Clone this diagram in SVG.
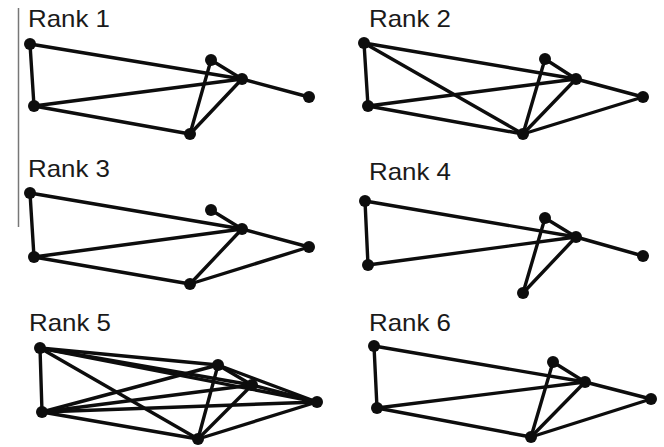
<svg xmlns="http://www.w3.org/2000/svg" width="664" height="447" viewBox="0 0 664 447">
  <style>
    .label { font-family: "Liberation Sans", Arial, sans-serif; font-size: 24px; fill: #1a1a1a; }
    .edge { stroke: #0d0d0d; stroke-width: 3.4; stroke-linecap: round; fill: none; }
    .node { fill: #0d0d0d; }
    .rule { stroke: #777; stroke-width: 1.5; }
  </style>
  <rect width="664" height="447" fill="#fff"/>

  <!-- thin margin rule on the left -->
  <line class="rule" x1="18.5" y1="8" x2="18.5" y2="227"/>

  <!-- Rank 1 -->
  <g id="rank1">
    <text class="label" x="28" y="27" textLength="82" lengthAdjust="spacingAndGlyphs">Rank 1</text>
    <g id="rank1-connectors">
      <line class="edge" x1="30" y1="44" x2="34" y2="106"/>
      <line class="edge" x1="30" y1="44" x2="242" y2="79"/>
      <line class="edge" x1="34" y1="106" x2="242" y2="79"/>
      <line class="edge" x1="34" y1="106" x2="190" y2="134"/>
      <line class="edge" x1="190" y1="134" x2="211" y2="60"/>
      <line class="edge" x1="190" y1="134" x2="242" y2="79"/>
      <line class="edge" x1="211" y1="60" x2="242" y2="79"/>
      <line class="edge" x1="242" y1="79" x2="309" y2="97"/>
    </g>
    <g id="rank1-n1"><circle class="node" cx="30" cy="44" r="6"/></g>
    <g id="rank1-n2"><circle class="node" cx="34" cy="106" r="6"/></g>
    <g id="rank1-n3"><circle class="node" cx="190" cy="134" r="6"/></g>
    <g id="rank1-n4"><circle class="node" cx="211" cy="60" r="6"/></g>
    <g id="rank1-n5"><circle class="node" cx="242" cy="79" r="6"/></g>
    <g id="rank1-n6"><circle class="node" cx="309" cy="97" r="6"/></g>
  </g>

  <!-- Rank 2 -->
  <g id="rank2">
    <text class="label" x="369" y="27" textLength="82" lengthAdjust="spacingAndGlyphs">Rank 2</text>
    <g id="rank2-connectors">
      <line class="edge" x1="364" y1="43" x2="368" y2="106"/>
      <line class="edge" x1="364" y1="43" x2="576" y2="79"/>
      <line class="edge" x1="364" y1="43" x2="523" y2="134"/>
      <line class="edge" x1="368" y1="106" x2="576" y2="79"/>
      <line class="edge" x1="368" y1="106" x2="523" y2="134"/>
      <line class="edge" x1="523" y1="134" x2="545" y2="59"/>
      <line class="edge" x1="523" y1="134" x2="576" y2="79"/>
      <line class="edge" x1="523" y1="134" x2="643" y2="97"/>
      <line class="edge" x1="545" y1="59" x2="576" y2="79"/>
      <line class="edge" x1="576" y1="79" x2="643" y2="97"/>
    </g>
    <g id="rank2-n1"><circle class="node" cx="364" cy="43" r="6"/></g>
    <g id="rank2-n2"><circle class="node" cx="368" cy="106" r="6"/></g>
    <g id="rank2-n3"><circle class="node" cx="523" cy="134" r="6"/></g>
    <g id="rank2-n4"><circle class="node" cx="545" cy="59" r="6"/></g>
    <g id="rank2-n5"><circle class="node" cx="576" cy="79" r="6"/></g>
    <g id="rank2-n6"><circle class="node" cx="643" cy="97" r="6"/></g>
  </g>

  <!-- Rank 3 -->
  <g id="rank3">
    <text class="label" x="28" y="177" textLength="82" lengthAdjust="spacingAndGlyphs">Rank 3</text>
    <g id="rank3-connectors">
      <line class="edge" x1="30" y1="193" x2="34" y2="257"/>
      <line class="edge" x1="30" y1="193" x2="242" y2="229"/>
      <line class="edge" x1="34" y1="257" x2="242" y2="229"/>
      <line class="edge" x1="34" y1="257" x2="190" y2="284"/>
      <line class="edge" x1="190" y1="284" x2="242" y2="229"/>
      <line class="edge" x1="190" y1="284" x2="309" y2="247"/>
      <line class="edge" x1="211" y1="210" x2="242" y2="229"/>
      <line class="edge" x1="242" y1="229" x2="309" y2="247"/>
    </g>
    <g id="rank3-n1"><circle class="node" cx="30" cy="193" r="6"/></g>
    <g id="rank3-n2"><circle class="node" cx="34" cy="257" r="6"/></g>
    <g id="rank3-n3"><circle class="node" cx="190" cy="284" r="6"/></g>
    <g id="rank3-n4"><circle class="node" cx="211" cy="210" r="6"/></g>
    <g id="rank3-n5"><circle class="node" cx="242" cy="229" r="6"/></g>
    <g id="rank3-n6"><circle class="node" cx="309" cy="247" r="6"/></g>
  </g>

  <!-- Rank 4 -->
  <g id="rank4">
    <text class="label" x="369" y="180" textLength="82" lengthAdjust="spacingAndGlyphs">Rank 4</text>
    <g id="rank4-connectors">
      <line class="edge" x1="365" y1="201" x2="368" y2="265"/>
      <line class="edge" x1="365" y1="201" x2="576" y2="237"/>
      <line class="edge" x1="368" y1="265" x2="576" y2="237"/>
      <line class="edge" x1="523" y1="293" x2="545" y2="218"/>
      <line class="edge" x1="523" y1="293" x2="576" y2="237"/>
      <line class="edge" x1="545" y1="218" x2="576" y2="237"/>
      <line class="edge" x1="576" y1="237" x2="643" y2="256"/>
    </g>
    <g id="rank4-n1"><circle class="node" cx="365" cy="201" r="6"/></g>
    <g id="rank4-n2"><circle class="node" cx="368" cy="265" r="6"/></g>
    <g id="rank4-n3"><circle class="node" cx="523" cy="293" r="6"/></g>
    <g id="rank4-n4"><circle class="node" cx="545" cy="218" r="6"/></g>
    <g id="rank4-n5"><circle class="node" cx="576" cy="237" r="6"/></g>
    <g id="rank4-n6"><circle class="node" cx="643" cy="256" r="6"/></g>
  </g>

  <!-- Rank 5: every pair of the six nodes is joined -->
  <g id="rank5">
    <text class="label" x="29" y="331" textLength="82" lengthAdjust="spacingAndGlyphs">Rank 5</text>
    <g id="rank5-connectors">
      <line class="edge" x1="40" y1="348" x2="42" y2="412"/>
      <line class="edge" x1="40" y1="348" x2="198" y2="439"/>
      <line class="edge" x1="40" y1="348" x2="218" y2="365"/>
      <line class="edge" x1="40" y1="348" x2="252" y2="385"/>
      <line class="edge" x1="40" y1="348" x2="317" y2="402"/>
      <line class="edge" x1="42" y1="412" x2="198" y2="439"/>
      <line class="edge" x1="42" y1="412" x2="218" y2="365"/>
      <line class="edge" x1="42" y1="412" x2="252" y2="385"/>
      <line class="edge" x1="42" y1="412" x2="317" y2="402"/>
      <line class="edge" x1="198" y1="439" x2="218" y2="365"/>
      <line class="edge" x1="198" y1="439" x2="252" y2="385"/>
      <line class="edge" x1="198" y1="439" x2="317" y2="402"/>
      <line class="edge" x1="218" y1="365" x2="252" y2="385"/>
      <line class="edge" x1="218" y1="365" x2="317" y2="402"/>
      <line class="edge" x1="252" y1="385" x2="317" y2="402"/>
    </g>
    <g id="rank5-n1"><circle class="node" cx="40" cy="348" r="6"/></g>
    <g id="rank5-n2"><circle class="node" cx="42" cy="412" r="6"/></g>
    <g id="rank5-n3"><circle class="node" cx="198" cy="439" r="6"/></g>
    <g id="rank5-n4"><circle class="node" cx="218" cy="365" r="6"/></g>
    <g id="rank5-n5"><circle class="node" cx="252" cy="385" r="6"/></g>
    <g id="rank5-n6"><circle class="node" cx="317" cy="402" r="6"/></g>
  </g>

  <!-- Rank 6 -->
  <g id="rank6">
    <text class="label" x="369" y="331" textLength="82" lengthAdjust="spacingAndGlyphs">Rank 6</text>
    <g id="rank6-connectors">
      <line class="edge" x1="374" y1="346" x2="377" y2="408"/>
      <line class="edge" x1="374" y1="346" x2="585" y2="382"/>
      <line class="edge" x1="377" y1="408" x2="585" y2="382"/>
      <line class="edge" x1="377" y1="408" x2="531" y2="437"/>
      <line class="edge" x1="531" y1="437" x2="553" y2="362"/>
      <line class="edge" x1="531" y1="437" x2="585" y2="382"/>
      <line class="edge" x1="531" y1="437" x2="651" y2="399"/>
      <line class="edge" x1="553" y1="362" x2="585" y2="382"/>
      <line class="edge" x1="585" y1="382" x2="651" y2="399"/>
    </g>
    <g id="rank6-n1"><circle class="node" cx="374" cy="346" r="6"/></g>
    <g id="rank6-n2"><circle class="node" cx="377" cy="408" r="6"/></g>
    <g id="rank6-n3"><circle class="node" cx="531" cy="437" r="6"/></g>
    <g id="rank6-n4"><circle class="node" cx="553" cy="362" r="6"/></g>
    <g id="rank6-n5"><circle class="node" cx="585" cy="382" r="6"/></g>
    <g id="rank6-n6"><circle class="node" cx="651" cy="399" r="6"/></g>
  </g>
</svg>
